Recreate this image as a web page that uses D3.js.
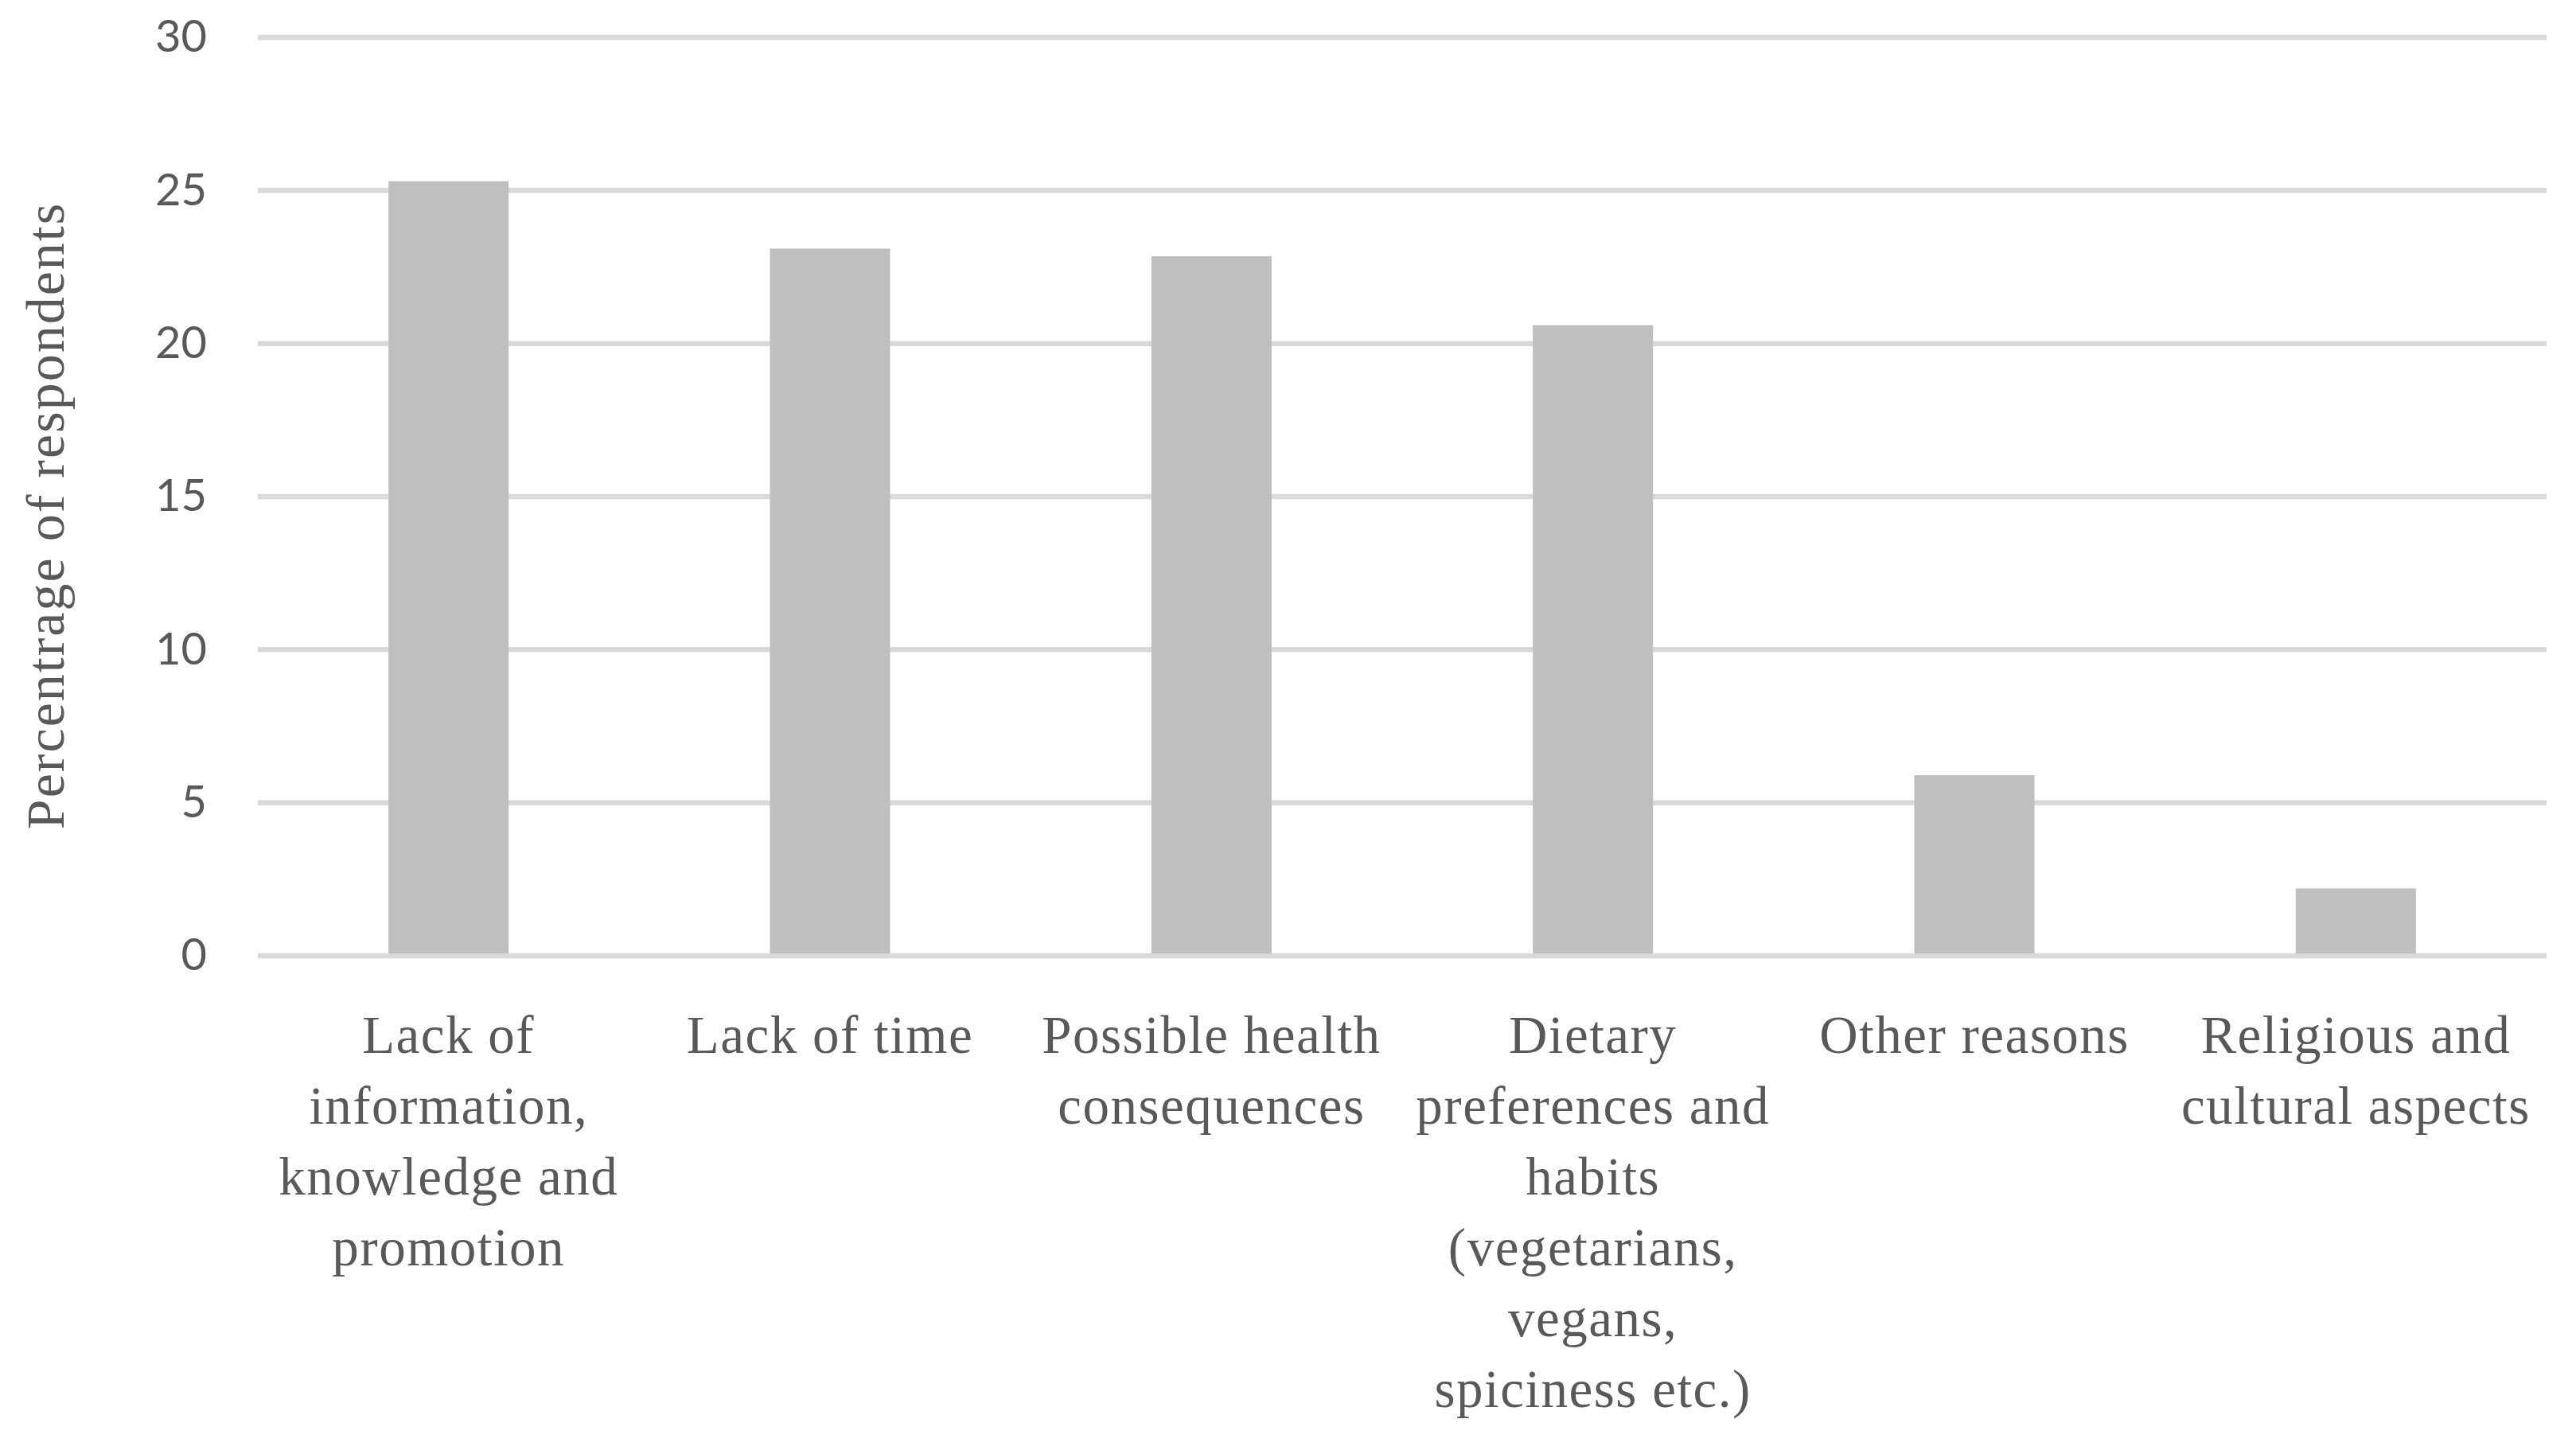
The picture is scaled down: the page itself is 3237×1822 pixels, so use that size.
<!DOCTYPE html>
<html>
<head>
<meta charset="utf-8">
<script src="https://cdn.jsdelivr.net/npm/d3@7"></script>
<style>
  body { margin: 0; background: #fff; }
</style>
</head>
<body>
<script>
// Data
var categories = [
  ["Lack of", "information,", "knowledge and", "promotion"],
  ["Lack of time"],
  ["Possible health", "consequences"],
  ["Dietary", "preferences and", "habits", "(vegetarians,", "vegans,", "spiciness etc.)"],
  ["Other reasons"],
  ["Religious and", "cultural aspects"]
];
var values = [25.3, 23.1, 22.85, 20.6, 5.9, 2.2];
var yTicks = [0, 5, 10, 15, 20, 25, 30];
var yTitle = "Percentrage of respondents";

var margin = {top: 47, right: 37, bottom: 621, left: 324},
    width = 3237 - margin.left - margin.right,
    height = 1822 - margin.top - margin.bottom;

var svg = d3.select("body")
            .append("svg")
            .attr("width", 3237)
            .attr("height", 1822);

var plot = svg.append("g")
              .attr("transform", "translate(" + margin.left + "," + margin.top + ")");

var x = d3.scaleBand()
          .domain(d3.range(categories.length))
          .range([0, width])
          .paddingInner(0.685)
          .paddingOuter(0.3425);

var y = d3.scaleLinear()
          .domain([0, 30])
          .range([height, 0]);

// gridlines
plot.selectAll(".grid")
    .data(yTicks)
    .enter().append("line")
    .attr("x1", 0)
    .attr("x2", width)
    .attr("y1", function(d) { return y(d); })
    .attr("y2", function(d) { return y(d); })
    .attr("stroke", "#d9d9d9")
    .attr("stroke-width", 6.5);

// bars
plot.selectAll(".bar")
    .data(values)
    .enter().append("rect")
    .attr("x", function(d, i) { return x(i); })
    .attr("width", x.bandwidth())
    .attr("y", function(d) { return y(d); })
    .attr("height", function(d) { return y(0) - y(d) - 3; })
    .attr("fill", "#bfbfbf");

// y axis tick labels
var yAxis = d3.axisLeft(y).tickValues(yTicks).tickSize(0).tickPadding(64);
var yg = plot.append("g").call(yAxis);
yg.select(".domain").remove();
yg.selectAll("text")
  .attr("fill", "#595959")
  .style("font-family", "Lato, 'Open Sans', sans-serif")
  .style("font-size", "56px");

// category labels
var labels = plot.selectAll(".cat")
    .data(categories)
    .enter().append("text")
    .attr("text-anchor", "middle")
    .attr("fill", "#595959")
    .style("font-family", "'Liberation Serif', 'DejaVu Serif', serif")
    .style("font-size", "67px")
    .style("letter-spacing", "1.5px")
    .attr("transform", function(d, i) {
      return "translate(" + (x(i) + x.bandwidth() / 2) + "," + (height + 122) + ")";
    });

labels.selectAll("tspan")
    .data(function(d) { return d; })
    .enter().append("tspan")
    .attr("x", 0)
    .attr("y", function(d, i) { return i * 89; })
    .text(function(d) { return d; });

// y title
svg.append("text")
   .attr("transform", "translate(80,648) rotate(-90)")
   .attr("text-anchor", "middle")
   .attr("fill", "#595959")
   .style("font-family", "'Liberation Serif', 'DejaVu Serif', serif")
   .style("font-size", "68px")
   .style("letter-spacing", "2px")
   .text(yTitle);
</script>
</body>
</html>
